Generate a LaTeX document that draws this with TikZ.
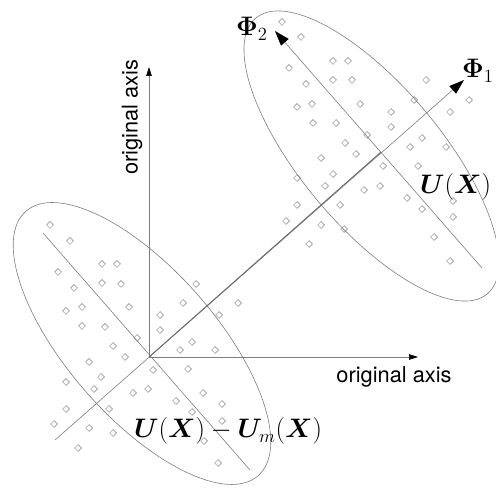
\documentclass[tikz,border=0pt]{standalone}
\usepackage{amsmath,bm}
\usepackage[no-math]{fontspec}
\newfontfamily\axisfont{TeX Gyre Heros}
\usetikzlibrary{arrows.meta,shapes.geometric}
\definecolor{ln}{RGB}{125,125,125}
\definecolor{dm}{RGB}{130,130,130}
\newcommand{\biglbl}[1]{\scalebox{1.29}{\fontsize{20.74}{25}\selectfont$#1$}}
\tikzset{
  thinline/.style={draw=ln, line width=0.6pt},
  meanline/.style={draw=ln!85!black, line width=0.9pt},
  axisarrow/.style={thinline, -{Triangle[length=9pt,width=5.5pt,black]}},
  phiarrow/.style={thinline, -{Triangle[length=15pt,width=10pt,black]}},
  cloud/.style={draw=ln, line width=0.6pt},
  dot/.style={diamond, draw=dm, line width=0.5pt, inner sep=0pt, minimum width=7pt, minimum height=7pt, aspect=1},
  axislbl/.style={font=\axisfont\fontsize{21.8}{24}\selectfont, inner sep=0pt},
  mathlbl/.style={inner sep=0pt},
}
\begin{document}
\begin{tikzpicture}[x=1pt,y=-1pt]
\useasboundingbox (0,0) rectangle (496,489);
% key points
\coordinate (O) at (149,357);
\coordinate (vtip) at (149,67);
\coordinate (htip) at (418,357);
\coordinate (p1s) at (55,440);
\coordinate (p1e) at (464,80);
\coordinate (c2) at (381,152);
\coordinate (p2s) at (482,268);
\coordinate (p2e) at (275,31);
\coordinate (q2s) at (43,233);
\coordinate (q2e) at (250,470);
\coordinate (e1) at (142,343.5);
\coordinate (e2) at (371.5,156);
% ellipses
\draw[cloud, rotate around={-48.7:(e1)}] (e1) ellipse [x radius=176pt, y radius=74pt];
\draw[cloud, rotate around={-50:(e2)}] (e2) ellipse [x radius=180pt, y radius=70pt];
% axes
\draw[axisarrow] (O) -- (vtip);
\draw[axisarrow] (O) -- (htip);
% principal axes
\draw[phiarrow] (p1s) -- (p1e);
\draw[phiarrow] (p2s) -- (p2e);
\draw[thinline] (q2s) -- (q2e);
\draw[meanline] (O) -- (c2);
% data points
\foreach \x/\y [count=\i] in {
50/225,70/241,102/264,117/264,58/272,74/288,102/283,121/284,66/311,82/307,
129/307,82/326,105/327,160/315,160/330,137/338,196/284,183/303,238/303,219/315,
192/342,180/350,215/350,113/346,125/357,89/362,153/370,188/369,66/382,101/377,
94/389,133/393,148/389,203/393,176/401,222/404,66/409,109/409,192/412,222/421,
54/424,89/428,113/433,204/441,78/448,218/463,
282/22,301/37,333/61,348/61,289/68,306/84,333/80,352/80,297/107,312/104,
360/104,313/123,336/123,367/135,345/143,356/154,321/158,333/174,297/178,426/80,
414/100,469/100,391/112,450/112,391/127,422/138,410/147,446/147,383/166,418/166,
380/186,364/190,325/186,297/205,340/205,407/198,453/201,422/209,453/217,286/221,
321/225,344/229,309/244,434/237,450/261}
  \node[dot] (d\i) at (\x,\y) {};
% labels
\node[axislbl, rotate=90] (lv) at (132,117) {original axis};
\node[axislbl] (lh) at (394,377) {original axis};
\node[mathlbl, anchor=base west] (lphi1) at (462,78) {\biglbl{\bm{\Phi}_1}};
\node[mathlbl, anchor=base west] (lphi2) at (236,36) {\biglbl{\bm{\Phi}_2}};
\node[mathlbl, anchor=base west] (lux) at (420,194) {\biglbl{\bm{U}(\bm{X})}};
\node[mathlbl, anchor=base west] (ldiff) at (134,438) {\biglbl{\bm{U}(\bm{X})-\bm{U}_m(\bm{X})}};
\end{tikzpicture}
\end{document}
